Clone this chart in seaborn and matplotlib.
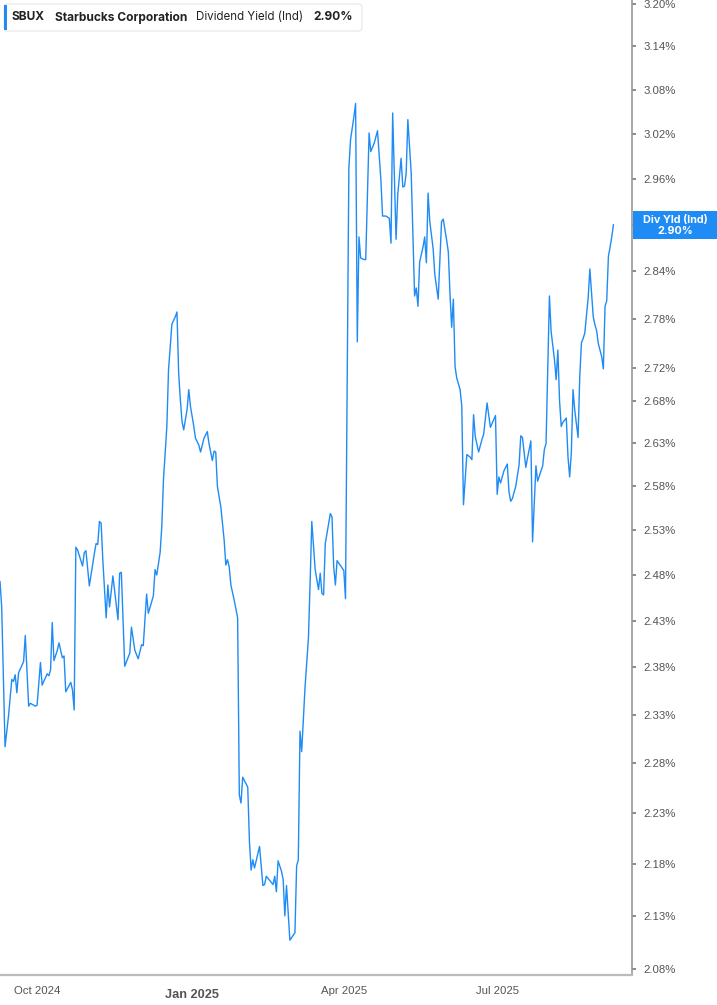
import matplotlib
matplotlib.use("Agg")
import matplotlib.pyplot as plt
import matplotlib.dates as mdates
from matplotlib.patches import Rectangle, FancyBboxPatch
from matplotlib.ticker import FixedLocator, NullLocator, NullFormatter
import seaborn as sns
import pandas as pd

# ---------------- data ----------------
dates = [
    "2024-09-09", "2024-09-10", "2024-09-12", "2024-09-14", "2024-09-16", "2024-09-17", "2024-09-18",
    "2024-09-19", "2024-09-20", "2024-09-23", "2024-09-24", "2024-09-26", "2024-09-27", "2024-09-30",
    "2024-10-01", "2024-10-03", "2024-10-04", "2024-10-07", "2024-10-08", "2024-10-09", "2024-10-10",
    "2024-10-11", "2024-10-13", "2024-10-14", "2024-10-16", "2024-10-17", "2024-10-18", "2024-10-21",
    "2024-10-22", "2024-10-23", "2024-10-24", "2024-10-25", "2024-10-28", "2024-10-29", "2024-10-30",
    "2024-11-01", "2024-11-04", "2024-11-05", "2024-11-06", "2024-11-07", "2024-11-08", "2024-11-09",
    "2024-11-11", "2024-11-12", "2024-11-13", "2024-11-15", "2024-11-18", "2024-11-19", "2024-11-20",
    "2024-11-22", "2024-11-25", "2024-11-26", "2024-11-28", "2024-11-30",
    "2024-12-02", "2024-12-03", "2024-12-05", "2024-12-06", "2024-12-09", "2024-12-10", "2024-12-11",
    "2024-12-13", "2024-12-14", "2024-12-15", "2024-12-16", "2024-12-17", "2024-12-18", "2024-12-19",
    "2024-12-20", "2024-12-22", "2024-12-23", "2024-12-24", "2024-12-25", "2024-12-26", "2024-12-27",
    "2024-12-29", "2024-12-30", "2024-12-31",
    "2025-01-02", "2025-01-03", "2025-01-05", "2025-01-06", "2025-01-08", "2025-01-10", "2025-01-11",
    "2025-01-13", "2025-01-14", "2025-01-15", "2025-01-16", "2025-01-18", "2025-01-20", "2025-01-21",
    "2025-01-22", "2025-01-23", "2025-01-24", "2025-01-26", "2025-01-28", "2025-01-29", "2025-01-30",
    "2025-01-31",
    "2025-02-03", "2025-02-04", "2025-02-05", "2025-02-06", "2025-02-07", "2025-02-10", "2025-02-12",
    "2025-02-13", "2025-02-14", "2025-02-18", "2025-02-19", "2025-02-20", "2025-02-21", "2025-02-23",
    "2025-02-24", "2025-02-25", "2025-02-26", "2025-02-28",
    "2025-03-03", "2025-03-04", "2025-03-05", "2025-03-06", "2025-03-07", "2025-03-09", "2025-03-11",
    "2025-03-12", "2025-03-13", "2025-03-15", "2025-03-17", "2025-03-18", "2025-03-19", "2025-03-20",
    "2025-03-21", "2025-03-24", "2025-03-25", "2025-03-26", "2025-03-27", "2025-03-28",
    "2025-04-01", "2025-04-02", "2025-04-04", "2025-04-05", "2025-04-07", "2025-04-08", "2025-04-09",
    "2025-04-10", "2025-04-11", "2025-04-13", "2025-04-14", "2025-04-16", "2025-04-17", "2025-04-19",
    "2025-04-21", "2025-04-23", "2025-04-24", "2025-04-26", "2025-04-28", "2025-04-29", "2025-04-30",
    "2025-05-02", "2025-05-03", "2025-05-05", "2025-05-06", "2025-05-07", "2025-05-08", "2025-05-09",
    "2025-05-11", "2025-05-12", "2025-05-13", "2025-05-14", "2025-05-15", "2025-05-16", "2025-05-18",
    "2025-05-19", "2025-05-20", "2025-05-21", "2025-05-22", "2025-05-24", "2025-05-25", "2025-05-27",
    "2025-05-29", "2025-05-30",
    "2025-06-01", "2025-06-02", "2025-06-03", "2025-06-04", "2025-06-05", "2025-06-06", "2025-06-07",
    "2025-06-09", "2025-06-10", "2025-06-11", "2025-06-13", "2025-06-15", "2025-06-16", "2025-06-17",
    "2025-06-18", "2025-06-20", "2025-06-22", "2025-06-23", "2025-06-25", "2025-06-27", "2025-06-30",
    "2025-07-01", "2025-07-02", "2025-07-03", "2025-07-05", "2025-07-07", "2025-07-08", "2025-07-09",
    "2025-07-10", "2025-07-12", "2025-07-14", "2025-07-15", "2025-07-16", "2025-07-18", "2025-07-19",
    "2025-07-21", "2025-07-22", "2025-07-24", "2025-07-25", "2025-07-28", "2025-07-29", "2025-07-30",
    "2025-08-01", "2025-08-02", "2025-08-04", "2025-08-05", "2025-08-06", "2025-08-07", "2025-08-08",
    "2025-08-09", "2025-08-11", "2025-08-12", "2025-08-13", "2025-08-14", "2025-08-15", "2025-08-16",
    "2025-08-18", "2025-08-19", "2025-08-20", "2025-08-21", "2025-08-22", "2025-08-24", "2025-08-25",
    "2025-08-26", "2025-08-27", "2025-08-28", "2025-08-29", "2025-08-30",
    "2025-09-01", "2025-09-02", "2025-09-03", "2025-09-04", "2025-09-05", "2025-09-06", "2025-09-07",
    "2025-09-08",
]

yield_pct = [
    2.473, 2.445, 2.297, 2.328, 2.367, 2.365, 2.372,
    2.353, 2.374, 2.386, 2.414, 2.339, 2.342, 2.339,
    2.340, 2.385, 2.361, 2.373, 2.371, 2.377, 2.428,
    2.387, 2.398, 2.406, 2.390, 2.392, 2.354, 2.364,
    2.356, 2.335, 2.511, 2.508, 2.490, 2.505, 2.507,
    2.468, 2.504, 2.515, 2.514, 2.540, 2.538, 2.497,
    2.433, 2.469, 2.445, 2.479, 2.431, 2.482, 2.483,
    2.381, 2.395, 2.423, 2.398, 2.389,
    2.404, 2.403, 2.459, 2.438, 2.457, 2.486, 2.480,
    2.505, 2.534, 2.588, 2.618, 2.650, 2.718, 2.746,
    2.774, 2.783, 2.789, 2.714, 2.682, 2.656, 2.646,
    2.670, 2.694, 2.674,
    2.650, 2.636, 2.628, 2.620, 2.636, 2.644, 2.630,
    2.610, 2.621, 2.620, 2.580, 2.557, 2.519, 2.491,
    2.497, 2.489, 2.469, 2.452, 2.433, 2.248, 2.240,
    2.266,
    2.256, 2.202, 2.174, 2.184, 2.176, 2.197, 2.159,
    2.160, 2.168, 2.160, 2.168, 2.153, 2.183, 2.173,
    2.165, 2.130, 2.159, 2.107,
    2.114, 2.178, 2.184, 2.313, 2.292, 2.359, 2.411,
    2.471, 2.540, 2.486, 2.464, 2.482, 2.460, 2.458,
    2.515, 2.549, 2.545, 2.489, 2.469, 2.496,
    2.485, 2.454, 2.974, 3.012, 3.043, 3.061, 2.752,
    2.884, 2.857, 2.855, 2.855, 3.021, 2.996, 3.007,
    3.024, 2.958, 2.911, 2.911, 2.908, 2.876, 3.048,
    2.881, 2.939, 2.987, 2.949, 2.950, 2.967, 3.039,
    2.967, 2.889, 2.809, 2.819, 2.796, 2.852, 2.871,
    2.884, 2.851, 2.941, 2.904, 2.869, 2.836, 2.805,
    2.904, 2.907,
    2.880, 2.865, 2.812, 2.770, 2.805, 2.722, 2.708,
    2.694, 2.674, 2.559, 2.617, 2.614, 2.611, 2.664,
    2.638, 2.620, 2.635, 2.641, 2.678, 2.649, 2.663,
    2.571, 2.591, 2.584, 2.598, 2.606, 2.574, 2.563,
    2.566, 2.580, 2.605, 2.639, 2.637, 2.602, 2.613,
    2.633, 2.517, 2.604, 2.586, 2.604, 2.623, 2.630,
    2.809, 2.765, 2.730, 2.706, 2.742, 2.681, 2.650,
    2.655, 2.660, 2.615, 2.591, 2.619, 2.694, 2.670,
    2.637, 2.710, 2.751, 2.756, 2.763, 2.807, 2.843,
    2.812, 2.783, 2.773, 2.766, 2.750,
    2.734, 2.719, 2.796, 2.803, 2.859, 2.871, 2.884,
    2.900,
]

ytick_values = [2.08, 2.13, 2.18, 2.23, 2.28, 2.33, 2.38, 2.43, 2.48, 2.53, 2.58, 2.63,
                2.68, 2.72, 2.78, 2.84, 2.90, 2.96, 3.02, 3.08, 3.14, 3.20]
# the 2.90% tick sits under the last-value badge, so its own label is left blank
ytick_labels = ["" if abs(v - 2.90) < 1e-9 else f"{v:.2f}%" for v in ytick_values]

xtick_dates = ["2024-10-01", "2025-01-01", "2025-04-01", "2025-07-01"]
xtick_labels = ["Oct 2024", "Jan 2025", "Apr 2025", "Jul 2025"]

ticker = "SBUX"
company = "Starbucks Corporation"
metric = "Dividend Yield (Ind)"
last_label = "2.90%"
badge_title = "Div Yld (Ind)"

# ---------------- figure ----------------
sns.set_theme(style="white")
plt.rcParams["font.family"] = ["Liberation Sans", "DejaVu Sans"]

W, H = 717, 1005
fig = plt.figure(figsize=(W / 100, H / 100), dpi=100)
fig.patch.set_facecolor("white")


def fx(px):
    return px / W


def fy(py):
    return 1 - py / H


ax_left, ax_right, ax_top, ax_bottom = 0, 632, 0, 975
ax = fig.add_axes([fx(ax_left), fy(ax_bottom), fx(ax_right - ax_left), (ax_bottom - ax_top) / H])

df = pd.DataFrame({"date": pd.to_datetime(dates), "yield": yield_pct})
line_color = "#1f8bf5"
sns.lineplot(data=df, x="date", y="yield", ax=ax, color=line_color, linewidth=1.0,
             estimator=None, sort=False)

ax.set_yscale("log")
ax.set_ylim(2.0745, 3.2057)
ax.set_xlim(pd.Timestamp("2024-09-09"), pd.Timestamp("2025-09-19"))

ax.yaxis.tick_right()
ax.yaxis.set_major_locator(FixedLocator(ytick_values))
ax.yaxis.set_minor_locator(NullLocator())
ax.yaxis.set_minor_formatter(NullFormatter())
ax.set_yticks(ytick_values)
ax.set_yticklabels(ytick_labels)
ax.tick_params(axis="y", which="major", direction="out", length=3, width=1.2,
               color="#777777", labelcolor="#555555", labelsize=8.2, pad=5,
               right=True, left=False)

xt = pd.to_datetime(xtick_dates)
ax.set_xticks(xt)
ax.set_xticklabels(xtick_labels)
ax.xaxis.set_minor_locator(NullLocator())
ax.tick_params(axis="x", which="major", direction="out", length=4, width=1,
               color="#bbbbbb", labelcolor="#555555", labelsize=8.2, pad=4)
for lbl in ax.get_xticklabels():
    if lbl.get_text().startswith("Jan"):
        lbl.set_fontweight("bold")
        lbl.set_fontsize(9.2)
        lbl.set_y(-0.003)

ax.set_xlabel("")
ax.set_ylabel("")
for side in ["left", "top"]:
    ax.spines[side].set_visible(False)
ax.spines["bottom"].set_color("#bbbbbb")
ax.spines["bottom"].set_linewidth(1.6)
ax.spines["right"].set_color("#999999")
ax.spines["right"].set_linewidth(1.2)
ax.grid(False)

# ---------------- header legend box ----------------
box = FancyBboxPatch((fx(4), fy(31)), fx(358), (31 - 4) / H,
                     boxstyle="round,pad=0,rounding_size=0.004",
                     transform=fig.transFigure, facecolor="white",
                     edgecolor="#e6e6e6", linewidth=0.8, zorder=5)
fig.patches.append(box)
bar = Rectangle((fx(4), fy(30)), fx(3), (30 - 5) / H, transform=fig.transFigure,
                facecolor=line_color, edgecolor="none", zorder=6)
fig.patches.append(bar)

hdr_font = ["Inter", "DejaVu Sans"]
ty = fy(17.5)
fig.text(fx(12), ty, ticker, fontsize=8.6, fontweight="bold", color="#222222",
         va="center", ha="left", family=hdr_font, zorder=7)
fig.text(fx(55), ty, company, fontsize=8.6, fontweight="bold", color="#222222",
         va="center", ha="left", family=hdr_font, zorder=7)
fig.text(fx(196), ty, metric, fontsize=8.3, color="#222222",
         va="center", ha="left", family=hdr_font, zorder=7)
fig.text(fx(313), ty, last_label, fontsize=8.6, fontweight="bold", color="#222222",
         va="center", ha="left", family=hdr_font, zorder=7)

# ---------------- last-value badge on the right axis ----------------
badge = Rectangle((fx(633), fy(239)), fx(717 - 633), (239 - 211) / H,
                  transform=fig.transFigure, facecolor="#1f8bf5", edgecolor="none", zorder=8)
fig.patches.append(badge)
fig.text(fx(675), fy(219.5), badge_title, fontsize=7.8, fontweight="bold", color="white",
         ha="center", va="center", family=hdr_font, zorder=9)
fig.text(fx(675), fy(231.5), last_label, fontsize=7.8, fontweight="bold", color="white",
         ha="center", va="center", family=hdr_font, zorder=9)

fig.savefig("out.png", dpi=100, facecolor="white")
